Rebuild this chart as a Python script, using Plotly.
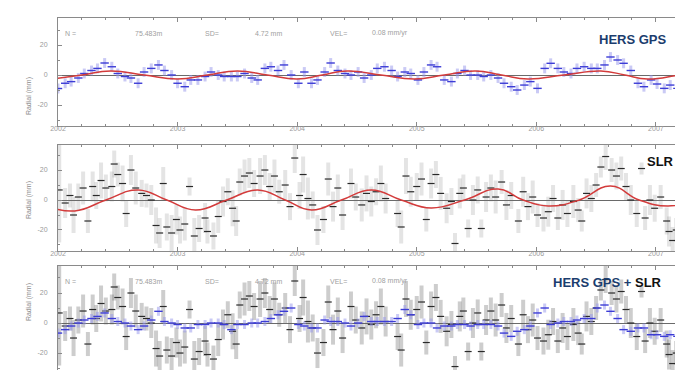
import plotly.graph_objects as go
from plotly.subplots import make_subplots

# ---------------- data ----------------
GPS_T = [2002.00, 2002.06, 2002.11, 2002.17, 2002.22, 2002.28, 2002.33, 2002.39, 2002.45, 2002.50,
         2002.56, 2002.61, 2002.67, 2002.72, 2002.78, 2002.84, 2002.89, 2002.95, 2003.00, 2003.06,
         2003.11, 2003.17, 2003.23, 2003.28, 2003.34, 2003.39, 2003.45, 2003.50, 2003.56, 2003.62,
         2003.67, 2003.73, 2003.78, 2003.84, 2003.89, 2003.95, 2004.01, 2004.06, 2004.12, 2004.17,
         2004.23, 2004.28, 2004.34, 2004.40, 2004.45, 2004.51, 2004.56, 2004.62, 2004.67, 2004.73,
         2004.79, 2004.84, 2004.90, 2004.95, 2005.01, 2005.06, 2005.12, 2005.17, 2005.23, 2005.29,
         2005.34, 2005.40, 2005.45, 2005.51, 2005.56, 2005.62, 2005.68, 2005.73, 2005.79, 2005.84,
         2005.90, 2005.95, 2006.01, 2006.07, 2006.12, 2006.18, 2006.23, 2006.29, 2006.34, 2006.40,
         2006.46, 2006.51, 2006.57, 2006.62, 2006.68, 2006.73, 2006.79, 2006.85, 2006.90, 2006.96,
         2007.01, 2007.07, 2007.12, 2007.18]
GPS_V = [-9, -5.5, -4.4, -2, 1, 3, 4.4, 8, 5.5, 1,
         -1, -2, -5.5, 2, 4.4, 6.7, 3, 0, -5.5, -7.8,
         -3.3, -3.3, -1, 2, 0, -1, -1, -1, 1, -2,
         -3.3, 4.4, 5.5, 3, 6.7, 0, -5.5, 2, -5.5, -3.3,
         2, 8, 3, 1, 0, 2, -2, 0, 4.4, 5.5,
         3, -1, 2, 1, -3.3, 2, 6.7, 5.5, -3.3, -4.4,
         1, 3, 0, 0, -1, 0, -2, -5.5, -7.8, -10,
         -6.7, -4.4, -8.9, 4.4, 7.8, 4.4, 2, 1, 4.4, 5.5,
         4.4, 4.4, 6.7, 12, 10, 7.8, 3, -5.5, -7.8, -3.3,
         -6, -8.9, -6.7, -8.9]
GPS_SIGMA = 3.3

COMB_T = GPS_T
COMB_V = [-6.7, -4.4, -2, 0, 2, 3, 4.4, 6.7, 3, 1,
          0, -2, -4.4, -2, 2, 7.8, 1, 0, -1, -3.3,
          -3.3, -1, -1, 0, 0, -1, -4.4, -1, -1, 0,
          0, 1, 3, 5.5, 7.8, 10, -1, -2, -3.3, -3.3,
          2, 1, 1, 0, -2, 0, 4.4, 1, 1, 1,
          1, 3, 9, 5.5, -1, 0, 0, -3.3, -2, -2,
          -1, -1, -2, -1, -1, -1, -2, -6.7, -8.9, -5.5,
          -4.4, -2, 6.7, 10, -1, 0, 1, 1, 2, 3,
          3, 10, 12, 7.8, 3, -4.4, -5.5, -3.3, -3.3, -7.8,
          -7.8, -8.9, -7.8, -8.9]
COMB_SIGMA = 3.0

SLR_T = [2002.01, 2002.06, 2002.10, 2002.13, 2002.17, 2002.21, 2002.25, 2002.29, 2002.32, 2002.36,
         2002.40, 2002.45, 2002.47, 2002.50, 2002.54, 2002.57, 2002.61, 2002.65, 2002.70, 2002.74,
         2002.78, 2002.82, 2002.85, 2002.88, 2002.91, 2002.95, 2002.99, 2003.02, 2003.06, 2003.10,
         2003.14, 2003.18, 2003.23, 2003.25, 2003.30, 2003.34, 2003.38, 2003.42, 2003.46, 2003.49,
         2003.52, 2003.56, 2003.60, 2003.64, 2003.69, 2003.73, 2003.77, 2003.81, 2003.85, 2003.90,
         2003.94, 2003.98, 2004.02, 2004.05, 2004.09, 2004.13, 2004.17, 2004.22, 2004.26, 2004.30,
         2004.34, 2004.38,
         2004.45, 2004.49, 2004.54, 2004.58, 2004.62, 2004.66, 2004.70, 2004.74, 2004.84, 2004.87,
         2004.91, 2004.95, 2005.00, 2005.04, 2005.08, 2005.12, 2005.16, 2005.20, 2005.25, 2005.29,
         2005.32, 2005.36, 2005.39, 2005.43, 2005.47, 2005.51, 2005.54, 2005.58, 2005.62, 2005.66,
         2005.71, 2005.75, 2005.79, 2005.85, 2005.89, 2005.93, 2005.97, 2006.01, 2006.06, 2006.10,
         2006.14, 2006.18, 2006.22, 2006.26, 2006.31, 2006.35, 2006.38, 2006.42, 2006.46, 2006.50,
         2006.54, 2006.58, 2006.63, 2006.67, 2006.71, 2006.75, 2006.79, 2006.84, 2006.88, 2006.91,
         2006.95, 2006.99, 2007.04, 2007.09, 2007.11, 2007.14, 2007.17]
SLR_V = [6.7, -2, 3, -10, 2, 8, -14, 9, 3, 13,
         8, 9, 24, 17, 11, -9, 20, 8, 4.4, 3,
         0, -17, -22, 11, -18, -22, -13, -20, -16, 9,
         -24, -19, -12, -21, -24, -11, -1, 5.5, -5.5, -14,
         12, 16, 18, 11, 16, 20, 9, 16, 5.5, 10,
         -4.4, 28, 3, 17, 1, -3.3, -20, -13, 14, -4.4,
         8, -10,
         11, 2, -3.3, 4.4, -1, 5.5, 11, 1, -9, -18,
         16, 5.5, 9, 14, -13, 11, 17, 4.4, -5.5, -1,
         -29, 4.4, 8, -19, 0, 6.7, -19, 2, 8, 2,
         12, -3.3, 3, -14, 5.5, -4.4, 2, -10, -12, -7.8,
         1, -12, -3.3, -9, -1, -6.7, -14, 4.4, 1, 10,
         22, 29, 20, 16, 21, 9, 0, -9, 21, -12,
         0, -5.5, 2, -14, -21, -27, -20]
SLR_E = [35, 10, 8, 12, 9, 11, 8, 10, 9, 12,
         9, 10, 9, 8, 12, 9, 10, 11, 9, 8,
         10, 12, 10, 11, 9, 12, 10, 9, 11, 6,
         12, 9, 10, 8, 9, 11, 10, 9, 12, 10,
         9, 11, 10, 9, 12, 10, 9, 11, 8, 10,
         9, 10, 9, 12, 14, 9, 10, 9, 11, 10,
         9, 10,
         10, 9, 11, 12, 10, 9, 12, 10, 9, 11,
         12, 10, 9, 11, 8, 10, 9, 11, 10, 9,
         7, 10, 9, 6, 10, 9, 6, 10, 9, 11,
         8, 10, 9, 8, 10, 9, 11, 8, 9, 10,
         9, 8, 10, 9, 11, 8, 7, 10, 9, 8,
         7, 9, 8, 9, 8, 9, 10, 9, 4, 8,
         10, 9, 8, 9, 10, 9, 8]

# annual signal fitted to each series (peaks / zero crossings / troughs)
GPS_FIT_T = [2001.95, 2002.20, 2002.44, 2002.72, 2003.00, 2003.25, 2003.50, 2003.75, 2004.00,
             2004.21, 2004.42, 2004.70, 2004.98, 2005.23, 2005.49, 2005.71, 2005.93, 2006.23,
             2006.54, 2006.74, 2006.93, 2007.20, 2007.45]
GPS_FIT_V = [-2.7, 0, 2.7, 0, -2.7, 0, 2.7, 0, -2.7,
             0, 2.7, 0, -2.7, 0, 2.7, 0, -2.7, 0,
             2.7, 0, -2.7, 0, 2.7]
SLR_FIT_T = [2001.90, 2002.14, 2002.40, 2002.67, 2002.91, 2003.15, 2003.41, 2003.67, 2003.90,
             2004.12, 2004.37, 2004.62, 2004.87, 2005.12, 2005.40, 2005.68, 2005.89, 2006.10,
             2006.36, 2006.62, 2006.86, 2007.10, 2007.35]
SLR_FIT_V = [-4.0, -7.3, 0, 6.7, 0, -6.7, 0, 6.7, 0,
             -6.7, 0, 6.7, 0, -5.3, 0, 7.3, 0, -4.0,
             0, 9.3, 0, -4.0, 0]

STATS = ["N =", "75.483m", "SD=", "4.72 mm", "VEL=", "0.08 mm/yr"]
YEAR_TICKS = [2002, 2003, 2004, 2005, 2006, 2007]
Y_TICKS = [-20, 0, 20]

# ---------------- figure ----------------
fig = make_subplots(rows=3, cols=1, shared_xaxes=False)

BLUE = "#3c3cd6"
BLUE_BAR = "rgba(150,150,235,0.5)"
GREY_BAR = "rgba(120,120,120,0.2)"
RED = "#d33b3b"

# panel 1 : GPS
fig.add_trace(go.Scatter(x=GPS_T, y=GPS_V, mode="markers",
                         marker=dict(symbol="line-ew", size=6, line=dict(width=1.4, color=BLUE)),
                         error_y=dict(type="constant", value=GPS_SIGMA, color=BLUE_BAR, thickness=3, width=0),
                         showlegend=False), row=1, col=1)
fig.add_trace(go.Scatter(x=GPS_FIT_T, y=GPS_FIT_V, mode="lines",
                         line=dict(color=RED, width=1.5, shape="spline", smoothing=1.3),
                         showlegend=False), row=1, col=1)

# panel 2 : SLR
fig.add_trace(go.Scatter(x=SLR_T, y=SLR_V, mode="markers",
                         marker=dict(symbol="line-ew", size=5, line=dict(width=1.2, color="#2a2a2a")),
                         error_y=dict(type="data", array=SLR_E, color=GREY_BAR, thickness=4, width=0),
                         showlegend=False), row=2, col=1)
fig.add_trace(go.Scatter(x=SLR_FIT_T, y=SLR_FIT_V, mode="lines",
                         line=dict(color=RED, width=1.5, shape="spline", smoothing=1.3),
                         showlegend=False), row=2, col=1)

# panel 3 : combined
fig.add_trace(go.Scatter(x=SLR_T, y=SLR_V, mode="markers",
                         marker=dict(symbol="line-ew", size=5, line=dict(width=1.2, color="#2a2a2a")),
                         error_y=dict(type="data", array=SLR_E, color="rgba(90,90,90,0.3)", thickness=4, width=0),
                         showlegend=False), row=3, col=1)
fig.add_trace(go.Scatter(x=COMB_T, y=COMB_V, mode="markers",
                         marker=dict(symbol="line-ew", size=6, line=dict(width=1.4, color=BLUE)),
                         error_y=dict(type="constant", value=COMB_SIGMA, color=BLUE_BAR, thickness=3, width=0),
                         showlegend=False), row=3, col=1)

domains = [[0.6983, 1.0], [0.3492, 0.6453], [0.0, 0.3073]]
yranges = [[-34, 38], [-34, 36.7], [-35.3, 38]]
AX = "#8a8a8a"
TXT = "#9a9a9a"
for i in range(3):
    n = "" if i == 0 else str(i + 1)
    fig.layout["xaxis" + n].update(
        domain=[0, 1], range=[2002.0, 2007.21], tickvals=YEAR_TICKS,
        ticktext=[str(y) for y in YEAR_TICKS], ticks="inside", ticklen=4,
        tickcolor=AX, showline=True, linecolor=AX, linewidth=1, mirror="ticks",
        showgrid=False, zeroline=False, showticklabels=(i < 2), ticklabelstandoff=-4,
        tickfont=dict(size=7, color=TXT, family="Liberation Sans"),
        minor=dict(dtick=0.2, tick0=2002, ticks="inside", ticklen=2, tickcolor=AX))
    fig.layout["yaxis" + n].update(
        domain=domains[i], range=yranges[i], tickvals=Y_TICKS,
        ticktext=[str(v) for v in Y_TICKS], ticks="inside", ticklen=4,
        tickcolor=AX, showline=True, linecolor=AX, linewidth=1, mirror="ticks",
        showgrid=False, zeroline=True, zerolinecolor="#6a6a6a", zerolinewidth=1,
        tickfont=dict(size=7, color=TXT, family="Liberation Sans"), ticklabelstandoff=8,
        minor=dict(dtick=10, tick0=0, ticks="inside", ticklen=2, tickcolor=AX))

ann = []
# y axis titles
for yc in [(368 - 67) / 358, (368 - 192) / 358, (368 - 315) / 358]:
    ann.append(dict(text="Radial (mm)", xref="paper", yref="paper", x=-0.056, y=yc,
                    textangle=-90, showarrow=False, font=dict(size=7, color="#8a8a8a", family="Liberation Sans")))
# stats strings in panels 1 and 3
stat_x = [55, 125, 195, 245, 320, 362]
for ypx in [25, 273]:
    for s, xp in zip(STATS, stat_x):
        ann.append(dict(text=s, xref="paper", yref="paper", x=(xp - 50) / 623, y=(368 - ypx) / 358,
                        xanchor="left", yanchor="middle", showarrow=False,
                        font=dict(size=7, color="#a0a0a0", family="Liberation Sans")))
TITLE_FONT = dict(size=13, family="Liberation Sans", color="#1b3d6e")
ann.append(dict(text="<b>HERS GPS</b>", xref="paper", yref="paper", x=(661 - 50) / 623, y=(368 - 32) / 358,
                xanchor="right", yanchor="middle", showarrow=False, font=TITLE_FONT))
ann.append(dict(text="<b>SLR</b>", xref="paper", yref="paper", x=(668 - 50) / 623, y=(368 - 153) / 358,
                xanchor="right", yanchor="middle", showarrow=False,
                font=dict(size=13, family="Liberation Sans", color="#111111")))
ann.append(dict(text="<b><span style='color:#1b3d6e'>HERS GPS +</span> SLR</b>", xref="paper", yref="paper",
                x=(656 - 50) / 623, y=(368 - 274) / 358, xanchor="right", yanchor="middle", showarrow=False,
                font=dict(size=13, family="Liberation Sans", color="#111111")))

fig.update_layout(width=683, height=370, margin=dict(l=50, r=10, t=10, b=2),
                  paper_bgcolor="white", plot_bgcolor="white", annotations=ann)

fig.write_html("out.html")
